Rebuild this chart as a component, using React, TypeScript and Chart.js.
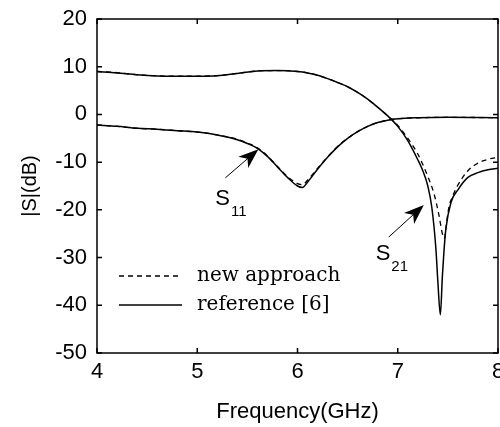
import React, { useEffect, useRef } from "react";
import { Chart, registerables } from "chart.js";

Chart.register(...registerables);

// ---- data (frequency in GHz, |S| in dB) ----
const s21RefFreq = [4.0, 4.2, 4.4, 4.6, 4.8, 5.0, 5.2, 5.4, 5.6, 5.8, 6.0, 6.1, 6.2, 6.3, 6.4, 6.5, 6.6, 6.7, 6.8, 6.9, 7.0, 7.1, 7.2, 7.25, 7.3, 7.34, 7.38, 7.4, 7.425, 7.445, 7.46, 7.48, 7.53, 7.6, 7.7, 7.8, 7.9, 8.0];
const s21RefDb = [9.0, 8.7, 8.3, 8.05, 8.0, 8.0, 8.1, 8.6, 9.1, 9.2, 9.0, 8.7, 8.2, 7.5, 6.7, 5.8, 4.6, 3.2, 1.5, -0.3, -2.5, -5.5, -9.5, -11.8, -15.0, -19.5, -28.0, -35.0, -42.0, -34.0, -29.0, -24.0, -18.5, -15.8, -13.2, -12.2, -11.6, -11.3];

const s21NewFreq = [4.0, 4.2, 4.4, 4.6, 4.8, 5.0, 5.2, 5.4, 5.6, 5.8, 6.0, 6.1, 6.2, 6.3, 6.4, 6.5, 6.6, 6.7, 6.8, 6.9, 7.0, 7.1, 7.2, 7.3, 7.36, 7.41, 7.445, 7.465, 7.485, 7.51, 7.55, 7.6, 7.7, 7.8, 7.9, 8.0];
const s21NewDb = [9.0, 8.75, 8.3, 8.1, 8.0, 8.0, 8.15, 8.6, 9.1, 9.2, 9.0, 8.7, 8.2, 7.5, 6.7, 5.8, 4.6, 3.2, 1.5, -0.3, -2.3, -5.0, -8.3, -13.0, -16.5, -21.0, -25.0, -26.0, -23.0, -19.5, -17.0, -14.8, -11.8, -10.2, -9.4, -9.0];

const s11RefFreq = [4.0, 4.2, 4.4, 4.6, 4.8, 5.0, 5.2, 5.4, 5.5, 5.6, 5.7, 5.8, 5.9, 6.0, 6.05, 6.1, 6.2, 6.3, 6.4, 6.5, 6.6, 6.7, 6.8, 6.9, 7.0, 7.2, 7.5, 8.0];
const s11RefDb = [-2.2, -2.5, -2.9, -3.1, -3.4, -3.7, -4.3, -5.3, -6.1, -7.1, -8.8, -11.0, -13.2, -15.0, -15.3, -14.2, -11.5, -9.0, -6.8, -5.0, -3.6, -2.5, -1.7, -1.2, -0.9, -0.7, -0.6, -0.7];

const s11NewFreq = [4.0, 4.2, 4.4, 4.6, 4.8, 5.0, 5.2, 5.4, 5.5, 5.6, 5.7, 5.8, 5.9, 6.0, 6.05, 6.1, 6.2, 6.3, 6.4, 6.5, 6.6, 6.7, 6.8, 6.9, 7.0, 7.2, 7.5, 8.0];
const s11NewDb = [-2.2, -2.5, -2.9, -3.1, -3.4, -3.7, -4.3, -5.2, -6.0, -7.0, -8.7, -10.9, -13.0, -14.5, -14.7, -13.8, -11.3, -8.9, -6.7, -5.0, -3.6, -2.5, -1.7, -1.2, -0.9, -0.7, -0.6, -0.7];

const legendLabels = ["new approach", "reference [6]"];
const xTitle = "Frequency(GHz)";
const yTitle = "|S|(dB)";

// annotation anchors in data coordinates
const s11Label = { x: 5.18, y: -19.0, text: "S", sub: "11" };
const s11Arrow = { fromX: 5.28, fromY: -13.3, toX: 5.61, toY: -7.3 };
const s21Label = { x: 6.78, y: -30.5, text: "S", sub: "21" };
const s21Arrow = { fromX: 6.91, fromY: -25.7, toX: 7.26, toY: -19.0 };

const toPoints = (xs: number[], ys: number[]) => xs.map((x, i) => ({ x, y: ys[i] }));

const SANS = "'Liberation Sans', Arial, sans-serif";
const SERIF = "'DejaVu Serif', serif";

const framePlugin = {
  id: "frame",
  afterDraw(chart: any) {
    const { ctx, chartArea: a, scales } = chart;
    const xs = scales.x;
    const ys = scales.y;
    ctx.save();
    ctx.strokeStyle = "#000";
    ctx.lineWidth = 1.5;
    ctx.strokeRect(a.left, a.top, a.right - a.left, a.bottom - a.top);
    const L = 5;
    ctx.beginPath();
    xs.ticks.forEach((t: any) => {
      const px = xs.getPixelForValue(t.value);
      ctx.moveTo(px, a.bottom);
      ctx.lineTo(px, a.bottom - L);
      ctx.moveTo(px, a.top);
      ctx.lineTo(px, a.top + L);
    });
    ys.ticks.forEach((t: any) => {
      const py = ys.getPixelForValue(t.value);
      ctx.moveTo(a.left, py);
      ctx.lineTo(a.left + L, py);
      ctx.moveTo(a.right, py);
      ctx.lineTo(a.right - L, py);
    });
    ctx.stroke();

    // legend
    const lx0 = a.left + 22;
    const lx1 = a.left + 85;
    const rows = [a.top + 257, a.top + 286];
    ctx.lineWidth = 1.4;
    ctx.setLineDash([5, 4]);
    ctx.beginPath();
    ctx.moveTo(lx0, rows[0]);
    ctx.lineTo(lx1, rows[0]);
    ctx.stroke();
    ctx.setLineDash([]);
    ctx.lineWidth = 1.6;
    ctx.beginPath();
    ctx.moveTo(lx0, rows[1]);
    ctx.lineTo(lx1, rows[1]);
    ctx.stroke();
    ctx.fillStyle = "#000";
    ctx.font = `20px ${SERIF}`;
    ctx.textAlign = "left";
    ctx.textBaseline = "middle";
    ctx.fillText(legendLabels[0], a.left + 100, rows[0]);
    ctx.fillText(legendLabels[1], a.left + 100, rows[1]);

    // annotations
    const drawLabel = (l: any) => {
      const px = xs.getPixelForValue(l.x);
      const py = ys.getPixelForValue(l.y);
      ctx.textBaseline = "alphabetic";
      ctx.font = `22px ${SANS}`;
      ctx.fillText(l.text, px, py);
      const w = ctx.measureText(l.text).width;
      ctx.font = `15px ${SANS}`;
      ctx.fillText(l.sub, px + w + 1, py + 11);
    };
    const drawArrow = (ar: any) => {
      const x0 = xs.getPixelForValue(ar.fromX);
      const y0 = ys.getPixelForValue(ar.fromY);
      const x1 = xs.getPixelForValue(ar.toX);
      const y1 = ys.getPixelForValue(ar.toY);
      const dx = x1 - x0;
      const dy = y1 - y0;
      const len = Math.hypot(dx, dy);
      const ux = dx / len;
      const uy = dy / len;
      const nx = -uy;
      const ny = ux;
      const hl = 20;
      const hw = 7.5;
      ctx.lineWidth = 1;
      ctx.beginPath();
      ctx.moveTo(x0, y0);
      ctx.lineTo(x1 - ux * hl * 0.6, y1 - uy * hl * 0.6);
      ctx.stroke();
      const bx = x1 - ux * hl;
      const by = y1 - uy * hl;
      ctx.beginPath();
      ctx.moveTo(x1, y1);
      ctx.lineTo(bx + nx * hw, by + ny * hw);
      ctx.lineTo(x1 - ux * hl * 0.72, y1 - uy * hl * 0.72);
      ctx.lineTo(bx - nx * hw, by - ny * hw);
      ctx.closePath();
      ctx.fill();
    };
    drawLabel(s11Label);
    drawArrow(s11Arrow);
    drawLabel(s21Label);
    drawArrow(s21Arrow);
    ctx.restore();
  },
};

export default function App() {
  const canvasRef = useRef<HTMLCanvasElement | null>(null);

  useEffect(() => {
    document.body.style.margin = "0";
    const canvas = canvasRef.current;
    if (!canvas) return;
    const common = {
      borderColor: "#000",
      backgroundColor: "#000",
      pointRadius: 0,
      fill: false,
      cubicInterpolationMode: "monotone" as const,
    };
    const chart = new Chart(canvas, {
      type: "line",
      data: {
        datasets: [
          { ...common, label: "S21 new", data: toPoints(s21NewFreq, s21NewDb), borderWidth: 1.3, borderDash: [5, 4] },
          { ...common, label: "S11 new", data: toPoints(s11NewFreq, s11NewDb), borderWidth: 1.3, borderDash: [5, 4] },
          { ...common, label: "S21 ref", data: toPoints(s21RefFreq, s21RefDb), borderWidth: 1.5 },
          { ...common, label: "S11 ref", data: toPoints(s11RefFreq, s11RefDb), borderWidth: 1.5 },
        ],
      },
      options: {
        responsive: false,
        animation: false,
        devicePixelRatio: 1,
        layout: { padding: { left: 0, top: 19, right: 2, bottom: 0 } },
        plugins: { legend: { display: false }, tooltip: { enabled: false } },
        scales: {
          x: {
            type: "linear",
            min: 4,
            max: 8,
            ticks: { stepSize: 1, color: "#000", padding: 6, font: { family: SANS, size: 22 } },
            grid: { display: false, drawTicks: false },
            border: { display: false },
            title: { display: true, text: xTitle, color: "#000", font: { family: SANS, size: 22 }, padding: { top: 0, bottom: 2 } },
            afterFit: (s: any) => {
              s.height = 74;
              s.paddingLeft = 0;
              s.paddingRight = 0;
            },
          },
          y: {
            type: "linear",
            min: -50,
            max: 20,
            ticks: { stepSize: 10, color: "#000", padding: 10, font: { family: SANS, size: 22 } },
            grid: { display: false, drawTicks: false },
            border: { display: false },
            title: { display: true, text: yTitle, color: "#000", font: { family: SANS, size: 20 }, padding: { top: 18, bottom: 0 } },
            afterFit: (s: any) => {
              s.width = 97;
              s.paddingTop = 0;
              s.paddingBottom = 0;
            },
          },
        },
      },
      plugins: [framePlugin],
    });
    return () => chart.destroy();
  }, []);

  return (
    <div style={{ width: 500, height: 427, background: "#fff" }}>
      <canvas ref={canvasRef} width={500} height={427} />
    </div>
  );
}
